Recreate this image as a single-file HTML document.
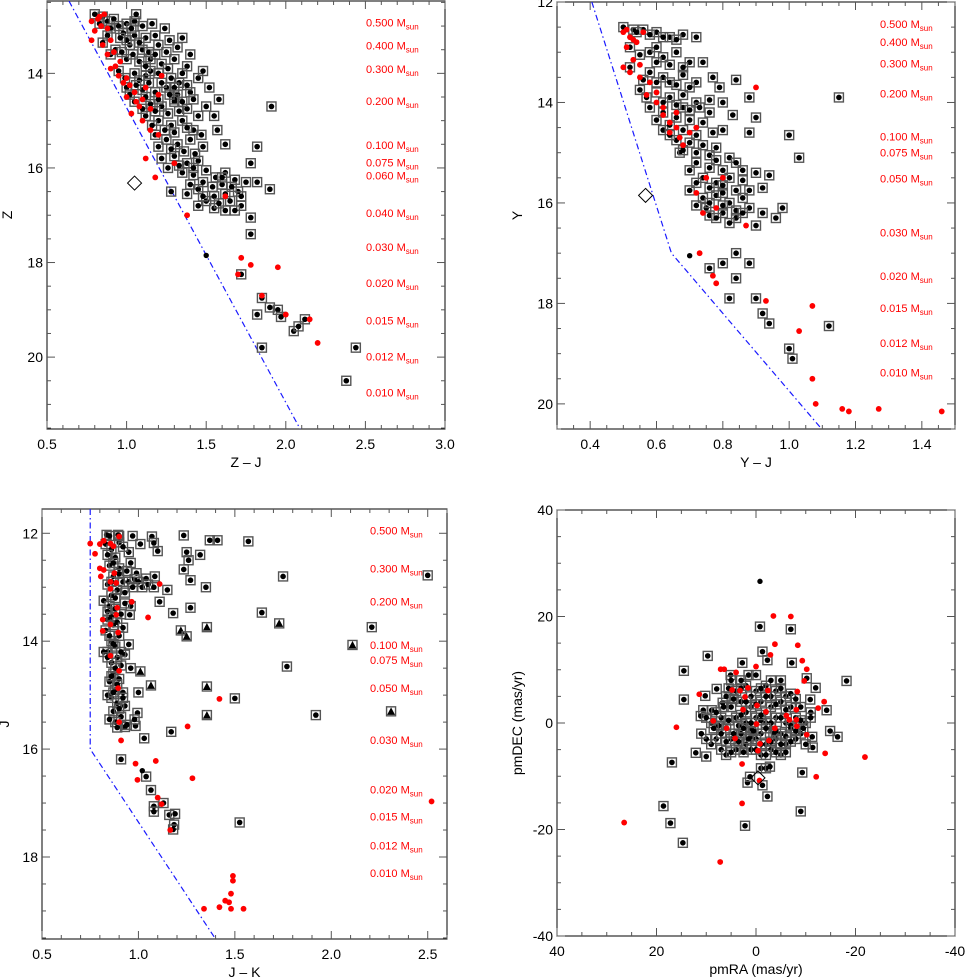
<!DOCTYPE html>
<html><head><meta charset="utf-8">
<style>
html,body{margin:0;padding:0;background:#fff;}
svg{display:block;font-family:"Liberation Sans",sans-serif;}
</style></head>
<body>
<svg id="chart" width="966" height="977" viewBox="0 0 966 977" xmlns="http://www.w3.org/2000/svg"></svg>
<script>
// ---------- Panel 1 data: Z vs Z-J ----------
const p1Black = [[0.80,12.75],[0.85,12.8],[0.88,12.9],[0.92,12.85],[0.95,13.0],[1.0,12.95],[1.05,12.9],[1.1,13.0],[0.98,13.15],[1.05,13.2],[1.12,13.25],[1.18,13.2],[1.02,13.4],[1.1,13.5],[1.2,13.4],[1.27,13.3],[1.35,13.25],[0.9,13.6],[1.0,13.7],[1.08,13.75],[1.15,13.7],[1.22,13.8],[1.3,13.7],[1.38,13.85],[0.95,13.95],[1.05,14.0],[1.12,14.05],[1.2,14.0],[1.28,14.1],[1.35,14.0],[1.45,14.1],[1.0,14.3],[1.1,14.35],[1.18,14.4],[1.25,14.3],[1.32,14.45],[1.4,14.4],[1.05,14.6],[1.15,14.65],[1.22,14.7],[1.3,14.6],[1.38,14.75],[1.5,14.7],[1.55,14.9],[1.12,14.9],[1.2,15.0],[1.28,15.1],[1.35,15.0],[1.42,15.2],[1.18,15.3],[1.25,15.4],[1.32,15.5],[1.4,15.4],[1.48,15.55],[1.22,15.8],[1.3,15.75],[1.38,15.9],[1.45,15.85],[1.35,16.1],[1.42,16.15],[1.5,16.05],[1.56,16.2],[1.62,16.1],[1.68,16.25],[1.75,16.3],[1.28,16.5],[1.38,16.55],[1.45,16.45],[1.55,16.6],[1.62,16.55],[1.7,16.5],[1.45,16.8],[1.55,16.85],[1.62,16.9],[1.72,16.8],[1.82,16.3],[1.9,16.45],[1.78,15.9],[1.82,15.55],[1.91,14.7],[1.3,14.55],[1.15,13.95],[1.25,13.55],[1.33,14.2],[1.42,14.55],[1.47,15.3],[1.57,15.2],[1.62,15.5],[1.5,16.7],[1.78,17.05],[1.78,17.4],[1.72,18.25],[1.85,18.75],[1.82,19.1],[1.9,18.95],[1.95,19.0],[1.97,19.15],[2.05,19.45],[2.08,19.35],[2.12,19.2],[1.85,19.8],[2.44,19.8],[2.38,20.5],[1.0,13.3],[0.93,13.5],[1.08,14.15],[1.6,16.35],[1.65,16.7],
[0.83,12.95],[0.9,13.05],[0.96,13.25],[1.03,13.05],[1.08,13.35],[1.14,13.55],[0.97,13.55],[1.04,13.6],[1.12,13.85],[1.18,13.6],[1.26,13.9],[0.99,14.1],[1.06,14.25],[1.14,14.2],[1.22,14.2],[1.3,14.3],[1.38,14.25],[1.02,14.45],[1.12,14.5],[1.2,14.55],[1.27,14.45],[1.35,14.6],[1.1,14.75],[1.18,14.8],[1.26,14.85],[1.33,14.8],[1.45,14.9],[1.16,15.1],[1.24,15.2],[1.3,15.25],[1.38,15.15],[1.2,15.55],[1.28,15.6],[1.36,15.65],[1.43,15.7],[1.26,16.0],[1.33,15.95],[1.42,16.0],[1.48,16.3],[1.54,16.4],[1.6,16.2],[1.66,16.4],[1.72,16.6],[1.48,16.6],[1.58,16.75],[1.68,16.9],[1.4,16.35],[0.88,13.2],[0.85,13.35],[1.06,12.75],[1.16,12.95],[1.24,13.05],[1.32,13.45],[1.4,13.6],[1.48,13.95],[1.52,14.3],[1.58,14.55]];
const p1Dot = [[1.5,17.85]];
const p1Red = [[0.78,12.9],[0.82,12.85],[0.8,13.1],[0.84,13.0],[0.78,13.3],[0.85,13.4],[0.88,13.6],[0.92,13.55],[0.9,13.9],[0.95,14.05],[0.98,14.2],[1.0,14.5],[1.05,14.4],[1.12,14.3],[1.08,14.7],[1.03,14.85],[1.1,15.0],[1.15,15.2],[1.2,15.3],[1.12,15.8],[1.18,16.2],[1.3,15.9],[1.38,17.0],[1.72,17.9],[1.7,18.25],[1.78,18.05],[1.85,18.7],[1.95,18.1],[2.0,19.1],[2.15,19.2],[2.2,19.7],[1.62,16.6],[0.86,12.75],[0.96,13.75],[1.22,14.05],[0.83,12.8],[0.88,13.05],[0.93,13.85],[1.0,14.1],[1.02,14.25],[1.1,14.55],[1.15,14.75],[1.2,14.45],[0.9,13.3],[1.06,14.6]];
const p1Diamond = [[1.05,16.32]];
const p1Limit = [[0.638,12.47],[2.09,21.52]];
const p1Masses = ["0.500","0.400","0.300","0.200","0.100","0.075","0.060","0.040","0.030","0.020","0.015","0.012","0.010"];
const p1MassMag = [12.92,13.41,13.91,14.58,15.51,15.89,16.16,16.95,17.67,18.43,19.23,19.99,20.75];

// ---------- Panel 2 data: Y vs Y-J ----------
const p2Black = [[0.5,12.5],[0.53,12.55],[0.56,12.55],[0.6,12.6],[0.64,12.7],[0.68,12.65],[0.72,12.7],[0.52,12.9],[0.58,13.0],[0.62,13.1],[0.66,13.0],[0.7,13.2],[0.74,13.2],[0.52,13.3],[0.58,13.4],[0.62,13.5],[0.68,13.45],[0.72,13.6],[0.77,13.5],[0.84,13.55],[0.55,13.75],[0.6,13.8],[0.64,13.9],[0.68,13.85],[0.72,14.0],[0.76,13.95],[0.8,14.0],[0.88,13.9],[0.9,14.3],[0.58,14.1],[0.62,14.2],[0.66,14.3],[0.7,14.35],[0.74,14.4],[0.77,14.6],[0.8,14.55],[0.88,14.6],[0.62,14.55],[0.66,14.75],[0.7,14.8],[0.72,15.0],[0.76,15.05],[0.78,15.15],[0.82,15.1],[0.84,15.2],[0.86,15.35],[0.67,15.0],[0.7,15.35],[0.74,15.5],[0.78,15.6],[0.82,15.5],[0.86,15.55],[0.9,15.4],[0.94,15.45],[0.7,15.75],[0.74,15.9],[0.78,15.85],[0.82,16.0],[0.86,15.9],[0.75,16.1],[0.8,16.2],[0.84,16.15],[0.88,16.1],[0.92,16.2],[0.96,16.3],[0.84,16.3],[0.9,16.45],[0.76,16.25],[0.72,16.05],[1.0,14.65],[1.03,15.1],[1.15,13.9],[0.92,15.7],[0.98,16.1],[0.84,17.0],[0.8,17.2],[0.76,17.3],[0.88,17.2],[0.84,17.5],[0.82,17.9],[0.9,17.9],[0.92,18.2],[0.94,18.4],[1.0,18.9],[1.01,19.1],[1.12,18.45],[0.64,13.6],[0.6,12.9],[0.68,14.1],[0.73,14.1],[0.8,15.8],
[0.54,12.6],[0.58,12.65],[0.62,12.7],[0.66,12.75],[0.55,13.05],[0.6,13.2],[0.64,13.25],[0.68,13.3],[0.56,13.55],[0.6,13.6],[0.66,13.65],[0.7,13.7],[0.57,13.9],[0.62,14.0],[0.66,14.05],[0.7,14.15],[0.6,14.35],[0.64,14.45],[0.68,14.55],[0.72,14.65],[0.64,14.65],[0.68,14.95],[0.72,15.2],[0.76,15.3],[0.8,15.35],[0.72,15.6],[0.76,15.7],[0.8,15.65],[0.84,15.75],[0.76,16.0],[0.8,16.05],[0.78,16.3],[0.82,16.4],[0.86,16.2],[0.88,15.75],[0.74,14.85],[0.78,14.9],[0.76,14.2],[0.79,13.7],[0.83,14.25]];
const p2Dot = [[0.7,17.05]];
const p2Red = [[0.5,12.6],[0.52,12.7],[0.51,12.9],[0.54,12.8],[0.5,13.3],[0.52,13.4],[0.55,13.5],[0.58,13.6],[0.6,13.8],[0.6,14.0],[0.62,14.25],[0.64,14.4],[0.66,14.5],[0.72,14.5],[0.7,14.6],[0.68,14.85],[0.75,15.5],[0.72,15.8],[0.78,16.1],[0.74,16.2],[0.8,15.5],[0.9,13.7],[0.73,17.0],[0.77,17.45],[0.78,17.6],[0.87,16.45],[0.93,17.95],[1.07,18.05],[1.03,18.55],[1.07,19.5],[1.08,20.0],[1.16,20.1],[1.18,20.15],[1.27,20.1],[1.46,20.15],[0.56,12.6],[0.51,12.55],[0.53,13.15],[0.55,13.25],[0.57,13.85],[0.62,14.1],[0.66,14.2],[0.64,14.6],[0.67,14.7],[0.53,12.75]];
const p2Diamond = [[0.567,15.85]];
const p2Limit = [[0.405,12.0],[0.645,17.0],[1.098,20.5]];
const p2Masses = ["0.500","0.400","0.300","0.200","0.100","0.075","0.050","0.030","0.020","0.015","0.012","0.010"];
const p2MassMag = [12.44,12.80,13.22,13.82,14.68,15.00,15.51,16.59,17.45,18.09,18.79,19.38];

// ---------- Panel 3 data: J vs J-K ----------
const p3Black = [[0.835,12.03],[0.895,12.03],[0.97,12.05],[1.07,12.06],[1.235,12.04],[1.37,12.13],[1.41,12.13],[0.9,12.17],[1.01,12.2],[1.08,12.18],[1.10,12.33],[1.25,12.35],[1.32,12.4],[1.26,12.5],[1.235,12.67],[1.27,12.87],[1.35,13.0],[0.95,12.35],[0.99,12.74],[1.04,12.84],[1.085,12.8],[1.15,13.05],[1.11,13.27],[1.27,13.38],[1.18,13.48],[0.96,13.35],[0.955,13.51],[0.95,14.06],[1.0,14.95],[1.5,15.06],[0.995,15.33],[0.985,15.57],[0.93,15.59],[1.17,15.68],[1.03,15.8],[0.91,16.19],[1.04,16.51],[1.065,16.76],[1.13,17.0],[1.08,17.06],[1.08,17.16],[1.16,17.22],[1.19,17.2],[1.185,17.4],[1.18,17.49],[1.525,17.36],[0.83,12.2],[0.86,12.3],[0.88,12.45],[0.85,12.6],[0.9,12.65],[0.87,12.8],[0.92,12.9],[0.84,12.95],[0.89,13.05],[0.86,13.15],[0.82,13.25],[0.85,13.35],[0.88,13.4],[0.91,13.5],[0.84,13.6],[0.87,13.7],[0.83,13.8],[0.9,13.9],[0.86,14.0],[0.88,14.1],[0.84,14.2],[0.89,14.3],[0.86,14.4],[0.91,14.45],[0.87,14.6],[0.9,14.7],[0.85,14.75],[0.88,14.9],[0.92,14.95],[0.86,15.05],[0.89,15.15],[0.93,15.2],[0.87,15.3],[0.91,15.4],[0.88,15.5],[0.94,15.55],[0.84,15.0],[0.82,14.2],[0.93,13.3],[0.95,12.9],[0.98,12.85],[0.92,12.25],[0.96,12.55],[1.0,12.9],[1.02,13.0],[0.93,14.25],[0.96,14.5],[0.98,15.45],[0.9,12.05],[0.85,12.05],[1.75,12.8],[2.5,12.78],[2.21,13.74],[1.77,14.47],[1.92,15.37],[1.57,12.15],[1.64,13.47],
[0.84,12.4],[0.87,12.55],[0.9,12.75],[0.86,12.9],[0.88,13.2],[0.84,13.45],[0.86,13.55],[0.89,13.65],[0.85,13.9],[0.87,14.05],[0.84,14.3],[0.88,14.5],[0.86,14.65],[0.89,14.8],[0.87,14.95],[0.9,15.25],[0.85,15.45],[0.89,15.6],[0.92,15.05],[0.91,14.2],[0.92,13.75],[0.93,13.1],[0.94,12.7],[0.97,13.0],[1.05,12.95],[1.08,13.0]];
const p3Tri = [[1.22,13.8],[1.25,13.91],[1.355,13.74],[1.01,14.56],[1.065,14.82],[1.355,14.84],[1.355,15.37],[1.73,13.67],[2.11,14.07],[2.31,15.3]];
const p3Dot = [[1.02,16.4]];
const p3Red = [[0.75,12.19],[0.80,12.2],[0.775,12.38],[0.82,12.14],[0.855,12.19],[0.87,12.24],[0.9,12.06],[0.80,12.65],[0.82,12.68],[0.805,12.8],[0.875,12.74],[0.855,12.9],[0.885,12.92],[1.11,12.94],[0.855,13.03],[0.965,13.27],[0.89,13.38],[1.05,13.56],[0.815,13.6],[0.885,13.51],[0.855,13.69],[0.815,13.81],[0.895,13.84],[0.855,14.27],[0.9,14.55],[0.895,14.87],[1.42,15.07],[0.9,15.5],[1.255,15.58],[0.91,15.84],[0.985,16.27],[1.09,16.22],[0.995,16.57],[1.28,16.54],[1.1,16.9],[1.12,17.02],[1.165,17.5],[1.49,18.35],[1.49,18.44],[1.48,18.68],[1.45,18.81],[1.47,18.84],[1.42,18.93],[1.34,18.96],[1.48,18.96],[1.545,18.96],[2.52,16.97]];
const p3Limit = [[0.75,11.55],[0.75,16.0],[1.40,19.52]];
const p3Masses = ["0.500","0.300","0.200","0.100","0.075","0.050","0.030","0.020","0.015","0.012","0.010"];
const p3MassMag = [11.95,12.65,13.26,14.07,14.35,14.87,15.83,16.75,17.25,17.79,18.30];

// ---------- Panel 4 data: pmDEC vs pmRA ----------
const p4Black = [[-0.8,18.1],[-7.0,17.6],[9.7,12.6],[-1.3,13.4],[-2.3,11.8],[-7.2,11.3],[2.75,11.3],[14.5,9.8],[5.1,9.0],[1.5,9.0],[-18.2,7.9],[14.5,4.4],[10.2,5.1],[7.9,6.4],[-10.2,8.4],[-12.0,6.6],[-10.9,4.4],[-14.2,2.4],[10.6,2.4],[8.9,2.4],[11.1,1.3],[6.7,3.8],[-14.9,-1.5],[-16.4,-2.6],[-11.3,-2.6],[-11.4,-4.6],[12.1,-5.6],[10.0,-6.3],[16.9,-7.4],[-9.3,-9.3],[1.7,-11.2],[-1.3,-11.7],[-2.3,-13.8],[18.6,-15.6],[-9.0,-16.6],[-1.0,-8.5],[-2.0,-8.5],[-2.8,-8.2],[1.2,-10.1],[6,5],[4,6],[2,7],[0,6],[-2,7],[-4,6],[-6,5],[5,3],[3,4],[1,3],[-1,4],[-3,3],[-5,4],[-7,3],[7,1],[4,1],[2,0],[0,1],[-2,0],[-4,1],[-6,0],[-8,1],[6,-1],[3,-2],[1,-1],[-1,-2],[-3,-1],[-5,-2],[-7,-1],[-9,-2],[8,-3],[5,-3],[2,-4],[0,-3],[-2,-4],[-4,-3],[-6,-4],[-8,-3],[7,-5],[4,-5],[1,-5],[-3,-5],[-5,-6],[9,-4],[10,-3],[11,-2],[-10,0],[-10,-4],[3,8],[-3,8],[0,9],[-5,8],[5,8],[9,0],[8,2],[-9,3],[-11,2],[6,-6],[-1,-6],[2,2],[-2,2],[17.2,-18.8],[14.7,-22.5],[2.2,-19.3],[-1,0.5],[1,-2.5],[-3.5,-2],[3.5,-0.5],
[5.5,6.5],[3,6.5],[1,5],[-1,6.5],[-3,5],[-5,6.5],[-7,5.5],[6.5,3],[4.5,4.5],[2,4],[0,3.5],[-2,5],[-4,3.5],[-6,2.5],[-8,4.5],[7.5,-0.5],[5.5,0.5],[3,1.5],[1,0],[-1,1.5],[-3,0],[-5,1],[-7,-0.5],[-9,0.5],[7,-2],[4.5,-2],[2.5,-1],[0.5,-1.5],[-2,-1],[-4,-1.5],[-6,-2.5],[-8,-1.5],[6,-3.5],[3.5,-3.5],[1.5,-3],[-1,-4],[-3,-3.5],[-5,-4],[-7,-3.5],[5,-5.5],[2.5,-5.5],[0,-5],[-2,-6],[-4,-5.5],[-6,-5.5],[8.5,-1],[-9.5,-1],[-11,1],[10,1]];
const p4Dot = [[-0.8,26.6]];
const p4Red = [[-3.5,20.1],[-7.0,20.0],[-3.8,14.8],[-8.4,14.6],[-2.9,12.8],[-9.3,11.7],[-10.2,10.1],[7.1,10.1],[6.4,10.1],[4.0,9.5],[0,10.6],[-9.7,7.9],[11.4,5.4],[4.8,6.2],[3.2,6.1],[1.6,6.6],[-2.4,6.1],[-8.3,5.9],[-13.7,4.0],[-12.5,2.8],[-8.1,2.5],[2.2,4.9],[2.6,2.5],[-0.2,3.3],[-2.0,2.1],[8.6,0.4],[-6.1,1.4],[-6.7,0.6],[-8.1,0.6],[-8.2,-0.6],[-10.2,-2.2],[-13.9,-5.7],[-12.1,-10.1],[5.9,-1.0],[4.2,-2.9],[-3.8,-1.0],[-0.1,-0.2],[-2.6,-3.3],[-0.8,-3.9],[-0.4,-5.2],[2.8,-7.7],[-0.7,-10.8],[2.8,-15.1],[16.0,-0.8],[26.5,-18.7],[7.2,-26.1],[-21.9,-6.4]];
const p4Diamond = [[-0.4,-10.3]];

// ---------- drawing ----------
const NS = "http://www.w3.org/2000/svg";
const svg = document.getElementById('chart');
function mk(tag, attrs, parent){
  const e = document.createElementNS(NS, tag);
  for (const k in attrs) e.setAttribute(k, attrs[k]);
  (parent||svg).appendChild(e); return e;
}
function fmt(v, dec){ return v.toFixed(dec); }

function panel(cfg){
  const g = mk('g', {});
  
  
  const sx = v => cfg.L + (v - cfg.x0) / (cfg.x1 - cfg.x0) * (cfg.R - cfg.L);
  const sy = v => cfg.T + (v - cfg.y0) / (cfg.y1 - cfg.y0) * (cfg.B - cfg.T);
  const clip = 'clip-' + cfg.name;
  const cp = mk('clipPath', {id: clip}, g);
  mk('rect', {x: cfg.L, y: cfg.T, width: cfg.R - cfg.L, height: cfg.B - cfg.T}, cp);
  const fr = mk('rect', {x: cfg.L, y: cfg.T, width: cfg.R - cfg.L, height: cfg.B - cfg.T, fill: 'none', stroke: '#000', 'stroke-width': 1}, g);
  
  
  const tg = mk('g', {stroke: '#555', 'stroke-width': 1}, g);
  
  
  const xlo = Math.min(cfg.x0, cfg.x1), xhi = Math.max(cfg.x0, cfg.x1);
  const ylo = Math.min(cfg.y0, cfg.y1), yhi = Math.max(cfg.y0, cfg.y1);
  const eps = 1e-6;
  for (let v = Math.ceil(xlo / cfg.xmin - eps) * cfg.xmin; v <= xhi + eps; v += cfg.xmin){
    const isMaj = Math.abs(v / cfg.xmaj - Math.round(v / cfg.xmaj)) < 1e-4;
    const len = isMaj ? 8 : 4, X = sx(v);
    mk('line', {x1: X, y1: cfg.B, x2: X, y2: cfg.B - len}, tg);
    mk('line', {x1: X, y1: cfg.T, x2: X, y2: cfg.T + len}, tg);
    if (isMaj){
      const t = mk('text', {x: X, y: cfg.B + 20, 'font-size': 14, 'text-anchor': 'middle', fill: '#000'}, g);
      t.textContent = fmt(v, cfg.xdec);
      
      
    }
  }
  for (let v = Math.ceil(ylo / cfg.ymin - eps) * cfg.ymin; v <= yhi + eps; v += cfg.ymin){
    const isMaj = Math.abs(v / cfg.ymaj - Math.round(v / cfg.ymaj)) < 1e-4;
    const len = isMaj ? 8 : 4, Y = sy(v);
    mk('line', {x1: cfg.L, y1: Y, x2: cfg.L + len, y2: Y}, tg);
    mk('line', {x1: cfg.R, y1: Y, x2: cfg.R - len, y2: Y}, tg);
    if (isMaj){
      const t = mk('text', {x: cfg.L - 4, y: Y + 5, 'font-size': 14, 'text-anchor': 'end', fill: '#000'}, g);
      t.textContent = fmt(v, 0);
      
      
    }
  }
  const xt = mk('text', {x: (cfg.L + cfg.R) / 2, y: cfg.B + 38, 'font-size': 14, 'text-anchor': 'middle', fill: '#000'}, g);
  xt.textContent = cfg.xtitle;
  
  
  const yc = (cfg.T + cfg.B) / 2, yx = cfg.ytx;
  const yt = mk('text', {x: yx, y: yc, 'font-size': 14, 'text-anchor': 'middle', fill: '#000', transform: `rotate(-90 ${yx} ${yc})`}, g);
  yt.textContent = cfg.ytitle;
  
  

  const pg = mk('g', {'clip-path': `url(#${clip})`}, g);
  
  
  if (cfg.limit){
    const pl = mk('polyline', {points: cfg.limit.map(p => sx(p[0]) + ',' + sy(p[1])).join(' '), fill: 'none', stroke: '#1a1aff', 'stroke-width': 1.2, 'stroke-dasharray': '6 3 1.5 3'}, pg);
    
    
  }
  (cfg.black || []).forEach(p => {
    const X = sx(p[0]), Y = sy(p[1]);
    const s = mk('rect', {x: X - 4.5, y: Y - 4.5, width: 9, height: 9, fill: 'none', stroke: '#555', 'stroke-width': 1.4}, pg);
    
    
    const c = mk('circle', {cx: X, cy: Y, r: 2.8, fill: '#000'}, pg);
    
    
  });
  (cfg.tri || []).forEach(p => {
    const X = sx(p[0]), Y = sy(p[1]);
    const s = mk('rect', {x: X - 4.5, y: Y - 4.5, width: 9, height: 9, fill: 'none', stroke: '#555', 'stroke-width': 1.4}, pg);
    
    
    const t = mk('polygon', {points: `${X},${Y-4} ${X-4},${Y+3.5} ${X+4},${Y+3.5}`, fill: '#000'}, pg);
    
    
  });
  (cfg.dot || []).forEach(p => {
    const c = mk('circle', {cx: sx(p[0]), cy: sy(p[1]), r: 2.7, fill: '#000'}, pg);
    
    
  });
  (cfg.red || []).forEach(p => {
    const c = mk('circle', {cx: sx(p[0]), cy: sy(p[1]), r: 2.9, fill: '#ff0000'}, pg);
    
    
  });
  (cfg.diamond || []).forEach(p => {
    const X = sx(p[0]), Y = sy(p[1]);
    const d = mk('polygon', {points: `${X},${Y-7} ${X+7},${Y} ${X},${Y+7} ${X-7},${Y}`, fill: 'none', stroke: '#000', 'stroke-width': 1}, pg);
    
    
  });
  if (cfg.masses){
    cfg.masses.forEach((m, i) => {
      const t = mk('text', {x: cfg.massX, y: sy(cfg.massMag[i]) + 4, 'font-size': 11, fill: '#ff0000'}, g);
      
      
      const a = mk('tspan', {}, t); a.textContent = m + ' M';
      const b = mk('tspan', {'font-size': 8, dy: 3}, t); b.textContent = 'sun';
    });
  }
}

panel({name:'panel-z-vs-zj', L:47, T:1, R:445, B:429, x0:0.5, x1:3.0, y0:12.47, y1:21.52,
  xmaj:0.5, xmin:0.1, ymaj:2, ymin:0.5, xdec:1, xtitle:'Z – J', ytitle:'Z', ytx:12,
  black:p1Black, dot:p1Dot, red:p1Red, diamond:p1Diamond, limit:p1Limit,
  masses:p1Masses, massMag:p1MassMag, massX:366});
panel({name:'panel-y-vs-yj', L:557, T:2, R:955, B:429, x0:0.3, x1:1.5, y0:12, y1:20.5,
  xmaj:0.2, xmin:0.05, ymaj:2, ymin:0.5, xdec:1, xtitle:'Y – J', ytitle:'Y', ytx:522,
  black:p2Black, dot:p2Dot, red:p2Red, diamond:p2Diamond, limit:p2Limit,
  masses:p2Masses, massMag:p2MassMag, massX:880});
panel({name:'panel-j-vs-jk', L:42, T:509, R:447, B:939, x0:0.5, x1:2.6, y0:11.55, y1:19.52,
  xmaj:0.5, xmin:0.1, ymaj:2, ymin:0.5, xdec:1, xtitle:'J – K', ytitle:'J', ytx:9,
  black:p3Black, tri:p3Tri, dot:p3Dot, red:p3Red, limit:p3Limit,
  masses:p3Masses, massMag:p3MassMag, massX:370});
panel({name:'panel-proper-motion', L:557, T:510, R:955, B:936, x0:40, x1:-40, y0:40, y1:-40,
  xmaj:20, xmin:5, ymaj:20, ymin:5, xdec:0, xtitle:'pmRA (mas/yr)', ytitle:'pmDEC (mas/yr)', ytx:522,
  black:p4Black, dot:p4Dot, red:p4Red, diamond:p4Diamond});
</script>
</body></html>
